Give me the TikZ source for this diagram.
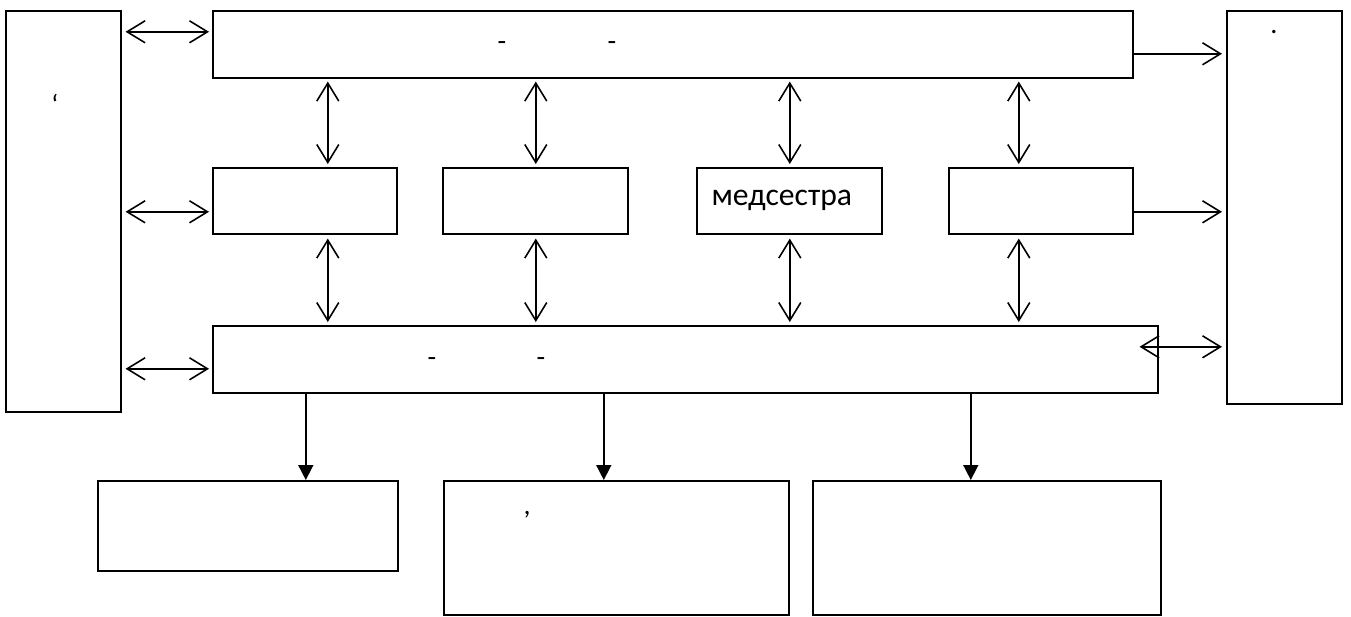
\documentclass[tikz,border=0pt]{standalone}
\usepackage{fontspec}
\setmainfont{Carlito}
\usepackage{tikz}
\usetikzlibrary{arrows.meta, positioning}

\begin{document}
\begin{tikzpicture}[
      >={Straight Barb[length=3.6mm, width=4.4mm]},
      box/.style={draw=black, line width=0.9pt, anchor=north west, inner sep=0pt, font=\fontsize{18}{21}\selectfont},
      dbl/.style={<->, line width=0.9pt},
      sgl/.style={->, line width=0.9pt},
      down/.style={-{Triangle[length=3mm, width=3mm]}, line width=0.9pt},
      glyph/.style={inner sep=0pt, anchor=base, font=\fontsize{16}{19}\selectfont}
    ]
      \useasboundingbox (0,0) rectangle (27.02,-12.32);

      % Side boxes
      \node[box, minimum width=2.30cm, minimum height=8.02cm] (lbox) at (0.10,-0.20) {};
      \node[box, minimum width=2.30cm, minimum height=7.86cm] (rbox) at (24.52,-0.20) {};

      % Top and lower bars
      \node[box, minimum width=18.40cm, minimum height=1.34cm] (topbar) at (4.24,-0.20) {};
      \node[box, minimum width=18.90cm, minimum height=1.34cm] (lowbar) at (4.24,-6.50) {};

      % Middle row
      \node[box, minimum width=3.68cm, minimum height=1.32cm] (mid1) at (4.24,-3.34) {};
      \node[box, minimum width=3.70cm, minimum height=1.32cm] (mid2) at (8.84,-3.34) {};
      \node[box, minimum width=3.70cm, minimum height=1.32cm] (mid3) at (13.92,-3.34) {\hspace*{-0.3cm}медсестра};
      \node[box, minimum width=3.68cm, minimum height=1.32cm] (mid4) at (18.96,-3.34) {};

      % Bottom row
      \node[box, minimum width=6.00cm, minimum height=1.80cm] (bot1) at (1.94,-9.60) {};
      \node[box, minimum width=6.90cm, minimum height=2.68cm] (bot2) at (8.86,-9.60) {};
      \node[box, minimum width=6.96cm, minimum height=2.68cm] (bot3) at (16.24,-9.60) {};

      % Stray marks
      \node[glyph] (tdash1) at (10.04,-1.00) {-};
      \node[glyph] (tdash2) at (12.24,-1.00) {-};
      \node[glyph] (ldash1) at (8.64,-7.32) {-};
      \node[glyph] (ldash2) at (10.82,-7.32) {-};
      \node[glyph] (comma) at (10.54,-10.28) {,};
      \node[glyph] (rdot) at (25.48,-0.66) {.};
      \node[glyph] (lmark) at (1.10,-2.28) {‘};

      % Left side arrows
      \draw[dbl] ([shift={(0.08,0.25)}]lbox.east |- topbar.west) -- ([shift={(-0.06,0.25)}]topbar.west);
      \draw[dbl] ([shift={(0.08,-0.22)}]lbox.east |- mid1.west) -- ([shift={(-0.06,-0.22)}]mid1.west);
      \draw[dbl] ([shift={(0.08,-0.19)}]lbox.east |- lowbar.west) -- ([shift={(-0.06,-0.19)}]lowbar.west);

      % Vertical arrows
      \draw[dbl] ([shift={(0.46,0.06)}]mid1.north) -- ([shift={(0.46,-0.06)}]mid1.north |- topbar.south);
      \draw[dbl] ([shift={(0.01,0.06)}]mid2.north) -- ([shift={(0.01,-0.06)}]mid2.north |- topbar.south);
      \draw[dbl] ([shift={(0.01,0.06)}]mid3.north) -- ([shift={(0.01,-0.06)}]mid3.north |- topbar.south);
      \draw[dbl] ([shift={(-0.44,0.06)}]mid4.north) -- ([shift={(-0.44,-0.06)}]mid4.north |- topbar.south);
      \draw[dbl] ([shift={(0.46,-0.08)}]mid1.south) -- ([shift={(0.46,0.06)}]mid1.south |- lowbar.north);
      \draw[dbl] ([shift={(0.01,-0.08)}]mid2.south) -- ([shift={(0.01,0.06)}]mid2.south |- lowbar.north);
      \draw[dbl] ([shift={(0.01,-0.08)}]mid3.south) -- ([shift={(0.01,0.06)}]mid3.south |- lowbar.north);
      \draw[dbl] ([shift={(-0.44,-0.08)}]mid4.south) -- ([shift={(-0.44,0.06)}]mid4.south |- lowbar.north);

      % Right side arrows
      \draw[sgl] ([yshift=-0.19cm]topbar.east) -- ([shift={(-0.08,-0.19)}]rbox.west |- topbar.east);
      \draw[sgl] ([yshift=-0.22cm]mid4.east) -- ([shift={(-0.08,-0.22)}]rbox.west |- mid4.east);
      \draw[dbl] ([shift={(-0.38,0.25)}]lowbar.east) -- ([shift={(-0.08,0.25)}]rbox.west |- lowbar.east);

      % Down arrows
      \draw[down] ([xshift=1.16cm]bot1.north |- lowbar.south) -- ([xshift=1.16cm]bot1.north);
      \draw[down] ([xshift=-0.25cm]bot2.north |- lowbar.south) -- ([xshift=-0.25cm]bot2.north);
      \draw[down] ([xshift=-0.32cm]bot3.north |- lowbar.south) -- ([xshift=-0.32cm]bot3.north);

    \end{tikzpicture}
\end{document}
